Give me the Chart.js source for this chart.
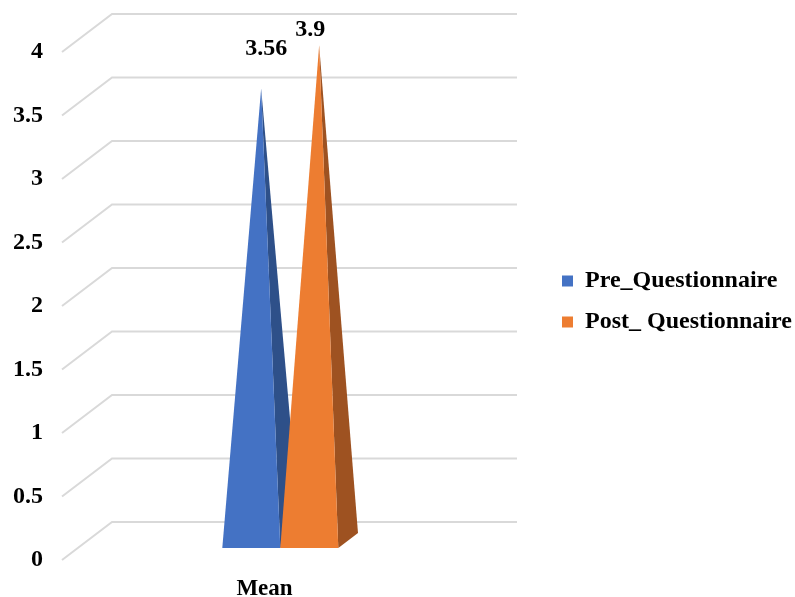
<!doctype html>
<html lang="en">
<head>
<meta charset="utf-8">
<title>Mean questionnaire scores</title>
<script src="https://cdn.jsdelivr.net/npm/chart.js"></script>
<style>
  html, body { margin: 0; padding: 0; background: #fff; }
  #wrap { width: 795px; height: 597px; }
</style>
</head>
<body>
<div id="wrap"><canvas id="meanChart"></canvas></div>
<script>
const categories = ['Mean'];
const seriesNames = ['Pre_Questionnaire', 'Post_ Questionnaire'];
const preValues = [3.56];
const postValues = [3.9];
const yMin = 0, yMax = 4, yStep = 0.5;

const frontColors = ['#4472C4', '#ED7D31'];
const sideColors = ['#2E5089', '#9E5221'];
const serif = '"Liberation Serif", "Times New Roman", serif';

// oblique depth of the floor (px to the right / up)
const depthX = 50, depthY = -38;
// pyramids stand between these depth fractions
const pyrFront = 0.316, pyrBack = 0.71;

// back wall + diagonal side wall lines for every y tick
const wallPlugin = {
  id: 'walls',
  beforeDatasetsDraw(chart) {
    const { ctx, chartArea: a } = chart;
    const y = chart.scales.y;
    ctx.save();
    ctx.strokeStyle = '#d9d9d9';
    ctx.lineWidth = 2;
    y.ticks.forEach((t, i) => {
      const py = y.getPixelForTick(i);
      ctx.beginPath();
      ctx.moveTo(a.left, py);
      ctx.lineTo(a.left + depthX, py + depthY);
      ctx.lineTo(a.right + depthX, py + depthY);
      ctx.stroke();
    });
    ctx.restore();
  }
};

// bars are replaced by 3D pyramids drawn from the bar elements
const pyramidPlugin = {
  id: 'pyramids',
  beforeDatasetDraw() {
    return false;
  },
  afterDatasetsDraw(chart, args, opts) {
    const { ctx } = chart;
    const mid = (pyrFront + pyrBack) / 2;
    ctx.save();
    chart.data.datasets.forEach((ds, i) => {
      const meta = chart.getDatasetMeta(i);
      meta.data.forEach((bar, j) => {
        const xl = bar.x - bar.width / 2;
        const xr = bar.x + bar.width / 2;
        const fy = bar.base + pyrFront * depthY;
        const by = bar.base + pyrBack * depthY;
        const ax = bar.x + mid * depthX;
        const ay = bar.y + mid * depthY;

        ctx.fillStyle = sideColors[i];
        ctx.beginPath();
        ctx.moveTo(xr + pyrFront * depthX, fy);
        ctx.lineTo(xr + pyrBack * depthX, by);
        ctx.lineTo(ax, ay);
        ctx.closePath();
        ctx.fill();

        ctx.fillStyle = frontColors[i];
        ctx.beginPath();
        ctx.moveTo(xl + pyrFront * depthX, fy);
        ctx.lineTo(xr + pyrFront * depthX, fy);
        ctx.lineTo(ax, ay);
        ctx.closePath();
        ctx.fill();

        // value label above the apex
        const off = opts.labelOffsets[i];
        ctx.fillStyle = '#000';
        ctx.font = 'bold 24px ' + serif;
        ctx.textAlign = 'center';
        ctx.textBaseline = 'middle';
        ctx.fillText(String(ds.data[j]), ax + off[0], ay + off[1]);
      });
    });
    ctx.restore();
  }
};

new Chart(document.getElementById('meanChart'), {
  type: 'bar',
  data: {
    labels: categories,
    datasets: [
      { label: seriesNames[0], data: preValues, backgroundColor: frontColors[0] },
      { label: seriesNames[1], data: postValues, backgroundColor: frontColors[1] }
    ]
  },
  options: {
    responsive: true,
    maintainAspectRatio: false,
    animation: false,
    categoryPercentage: 0.2864,
    barPercentage: 1,
    layout: { padding: { top: 6, right: 0, bottom: 0, left: 0 } },
    plugins: {
      tooltip: { enabled: false },
      legend: {
        position: 'right',
        maxWidth: 250,
        labels: {
          boxWidth: 11,
          boxHeight: 11,
          padding: 17,
          color: '#000',
          font: { family: serif, size: 24, weight: 'bold' }
        }
      },
      pyramids: { labelOffsets: [[5, -40], [-9, -15]] }
    },
    scales: {
      x: {
        grid: { display: false },
        border: { display: false },
        ticks: {
          padding: 7,
          color: '#000',
          font: { family: serif, size: 23, weight: 'bold' }
        },
        afterFit(s) { s.height = 37; s.paddingLeft = 0; s.paddingRight = 0; }
      },
      y: {
        min: yMin,
        max: yMax,
        grid: { display: false },
        border: { display: false },
        ticks: {
          stepSize: yStep,
          padding: 11,
          color: '#000',
          font: { family: serif, size: 24, weight: 'bold' },
          callback: (v) => String(v)
        },
        afterFit(s) { s.width = 62; s.paddingTop = 52; s.paddingBottom = 0; }
      },
      // empty spacer between the plot and the legend
      gap: {
        position: 'right',
        display: true,
        grid: { display: false },
        border: { display: false },
        ticks: { display: false },
        afterFit(s) { s.width = 78; s.paddingTop = 0; s.paddingBottom = 0; }
      }
    }
  },
  plugins: [wallPlugin, pyramidPlugin]
});
</script>
</body>
</html>
